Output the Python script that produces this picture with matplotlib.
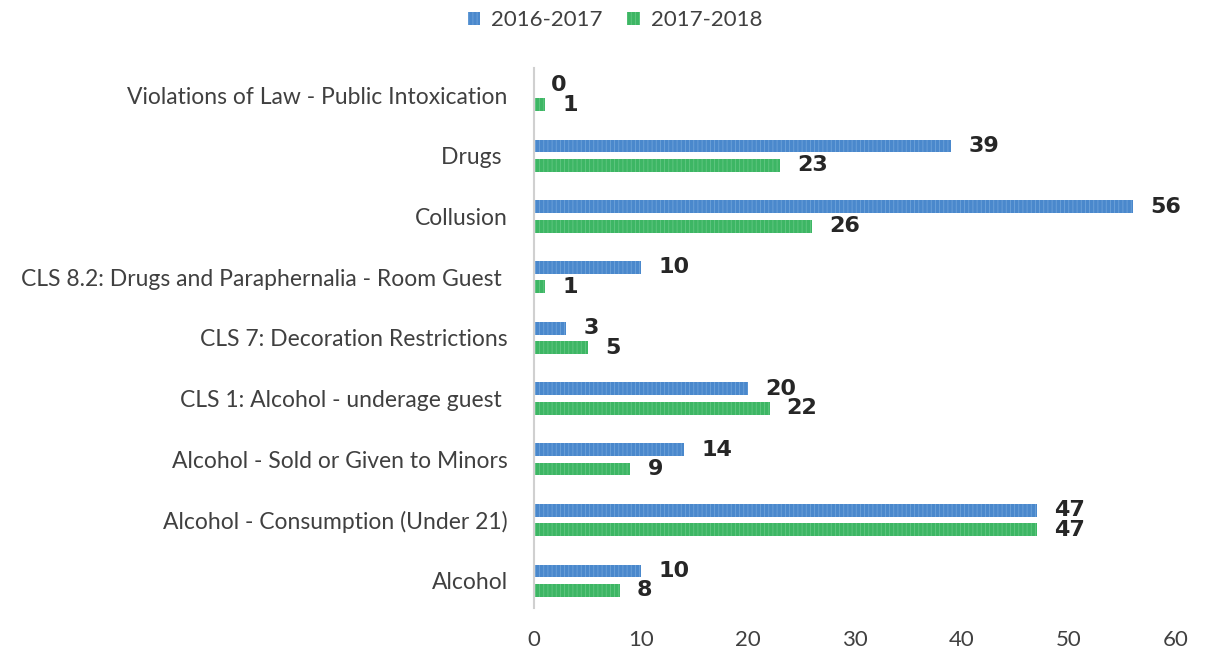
import matplotlib.pyplot as plt
import numpy as np

categories = ["Alcohol", "Alcohol - Consumption (Under 21)", "Alcohol - Sold or Given to Minors",
              "CLS 1: Alcohol - underage guest ", "CLS 7: Decoration Restrictions",
              "CLS 8.2: Drugs and Paraphernalia - Room Guest ", "Collusion", "Drugs ",
              "Violations of Law - Public Intoxication"]
y2016 = [10, 47, 14, 20, 3, 10, 56, 39, 0]
y2017 = [8, 47, 9, 22, 5, 1, 26, 23, 1]

plt.rcParams['font.family'] = ['Lato', 'DejaVu Sans']
plt.rcParams['hatch.linewidth'] = 0.6

fig = plt.figure(figsize=(12.06, 6.51), dpi=100)
ax = fig.add_axes([0.443, 0.066, 0.532, 0.83])

pos = np.arange(len(categories))
h = 0.21
blue = "#4a88cc"
green = "#3db664"
b1 = ax.barh(pos + 0.16, y2016, height=h, color=blue, label="2016-2017",
             hatch="||||", edgecolor="#6fa3da", linewidth=0)
b2 = ax.barh(pos - 0.16, y2017, height=h, color=green, label="2017-2018",
             hatch="||||", edgecolor="#63c783", linewidth=0)

for bars, vals in ((b1, y2016), (b2, y2017)):
    for bar, v in zip(bars, vals):
        ax.text(v + 1.6, bar.get_y() + bar.get_height() / 2, str(v),
                va="center", ha="left", fontsize=16, fontweight="bold",
                color="#262626", family="DejaVu Sans")

ax.set_yticks(pos)
ax.set_yticklabels(categories, fontsize=16.5, color="#404040")
ax.set_xlim(0, 60)
ax.set_xticks(range(0, 61, 10))
ax.tick_params(axis="x", labelsize=16, colors="#404040", length=0, pad=16)
ax.tick_params(axis="y", length=0, pad=19)
ax.set_ylim(-0.45, 8.45)
for s in ["top", "right", "bottom"]:
    ax.spines[s].set_visible(False)
ax.spines["left"].set_color("#d0d0d0")
ax.spines["left"].set_linewidth(1.5)

fig.legend(handles=[b1, b2], loc="upper center", bbox_to_anchor=(0.51, 1.015), ncol=2,
           frameon=False, fontsize=16, handlelength=0.55, handleheight=0.55,
           columnspacing=1.1, handletextpad=0.5, labelcolor="#404040")

fig.savefig("out.png", dpi=100)
